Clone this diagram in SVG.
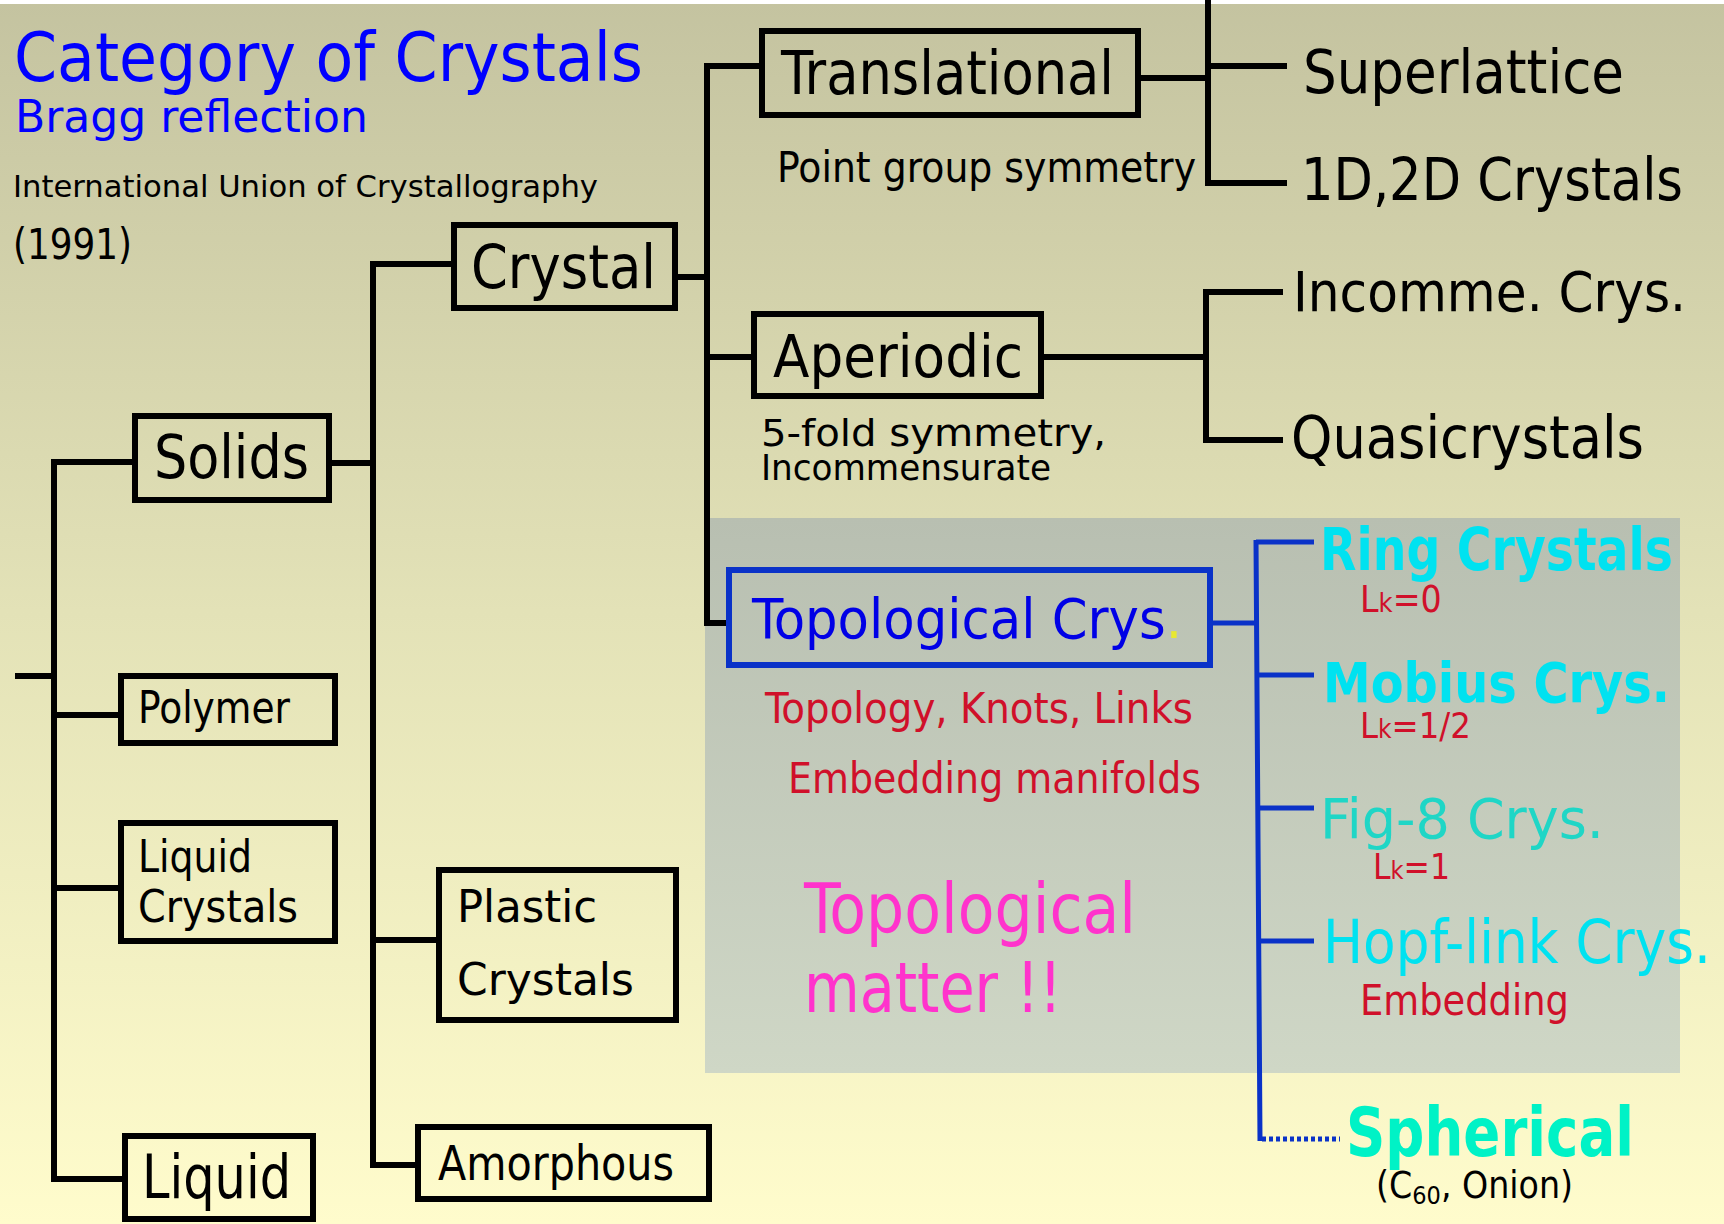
<svg xmlns="http://www.w3.org/2000/svg" width="1724" height="1224" viewBox="0 0 1724 1224">
<defs>
<linearGradient id="bg" x1="0" y1="0" x2="0" y2="1">
<stop offset="0" stop-color="#c4c3a0"/>
<stop offset="0.5" stop-color="#e3e2b7"/>
<stop offset="1" stop-color="#fffccc"/>
</linearGradient>
<linearGradient id="panel" x1="0" y1="0" x2="0" y2="1">
<stop offset="0" stop-color="#b8bfb1"/>
<stop offset="1" stop-color="#cfd7c6"/>
</linearGradient>
</defs>
<style>
text{font-family:"Liberation Sans Narrow","DejaVu Sans Condensed","Liberation Sans",sans-serif}
.box{fill:none;stroke:#000;stroke-width:6}
.bbox{fill:none;stroke:#0a32c8;stroke-width:6}
.ln{fill:none;stroke:#000;stroke-width:6}
.bl{fill:none;stroke:#0a32c8;stroke-width:5}
.k{fill:#000}
.blue{fill:#0000ff}
.red{fill:#d0102a}
.cyan{fill:#00e2f0;font-weight:bold}
</style>
<rect x="0" y="0" width="1724" height="1224" fill="url(#bg)"/>
<rect x="0" y="0" width="1724" height="4" fill="#ffffff"/>
<rect x="705" y="518" width="975" height="555" fill="url(#panel)"/>

<g id="header">
<text class="blue" x="14" y="81" font-size="68" textLength="629" lengthAdjust="spacingAndGlyphs">Category of Crystals</text>
<text class="blue" x="15" y="132" font-size="45" textLength="353" lengthAdjust="spacingAndGlyphs">Bragg reflection</text>
<text class="k" x="13" y="197" font-size="31" textLength="585" lengthAdjust="spacingAndGlyphs">International Union of Crystallography</text>
<text class="k" x="13" y="259" font-size="42" textLength="119" lengthAdjust="spacingAndGlyphs">(1991)</text>
</g>

<g id="connectors">
<path class="ln" d="M15 676H54M54 459V1182M54 462H132M54 715H118M54 888H118M54 1179H122"/>
<path class="ln" d="M332 463H373M373 261V1168M373 264H451M373 940H436M373 1165H415"/>
<path class="ln" d="M678 277H707M707 63V626M707 66H759M707 357H751M707 623H726"/>
<path class="ln" d="M1141 78H1208M1208 0V186M1208 66H1287M1208 183H1287"/>
<path class="ln" d="M1044 357H1206M1206 289V443M1206 292H1283M1206 440H1283"/>
<path class="bl" d="M1213 623H1256M1256 540L1260 1141M1256 542H1314M1257 675H1314M1258 808H1314M1259 941H1314"/>
<path class="bl" d="M1262 1139H1340" stroke-dasharray="4 3"/>
</g>

<g id="solids"><rect class="box" x="135" y="416" width="194" height="84"/>
<text class="k" x="154" y="478" font-size="60" textLength="155" lengthAdjust="spacingAndGlyphs">Solids</text></g>

<g id="polymer"><rect class="box" x="121" y="676" width="214" height="67"/>
<text class="k" x="138" y="723" font-size="44" textLength="152" lengthAdjust="spacingAndGlyphs">Polymer</text></g>

<g id="liquid-crystals"><rect class="box" x="121" y="823" width="214" height="118"/>
<text class="k" x="138" y="872" font-size="44" textLength="114" lengthAdjust="spacingAndGlyphs">Liquid</text>
<text class="k" x="138" y="922" font-size="44" textLength="160" lengthAdjust="spacingAndGlyphs">Crystals</text></g>

<g id="liquid"><rect class="box" x="125" y="1136" width="188" height="83"/>
<text class="k" x="142" y="1198" font-size="60" textLength="149" lengthAdjust="spacingAndGlyphs">Liquid</text></g>

<g id="crystal"><rect class="box" x="454" y="225" width="221" height="83"/>
<text class="k" x="471" y="288" font-size="60" textLength="185" lengthAdjust="spacingAndGlyphs">Crystal</text></g>

<g id="plastic-crystals"><rect class="box" x="439" y="870" width="237" height="150"/>
<text class="k" x="457" y="922" font-size="44" textLength="140" lengthAdjust="spacingAndGlyphs">Plastic</text>
<text class="k" x="457" y="995" font-size="44" textLength="177" lengthAdjust="spacingAndGlyphs">Crystals</text></g>

<g id="amorphous"><rect class="box" x="418" y="1127" width="291" height="72"/>
<text class="k" x="438" y="1180" font-size="48" textLength="236" lengthAdjust="spacingAndGlyphs">Amorphous</text></g>

<g id="translational"><rect class="box" x="762" y="31" width="376" height="84"/>
<text class="k" x="781" y="94" font-size="60" textLength="333" lengthAdjust="spacingAndGlyphs">Translational</text>
<text class="k" x="777" y="182" font-size="42" textLength="419" lengthAdjust="spacingAndGlyphs">Point group symmetry</text></g>

<g id="superlattice"><text class="k" x="1303" y="93" font-size="60" textLength="321" lengthAdjust="spacingAndGlyphs">Superlattice</text></g>
<g id="crystals-1d2d"><text class="k" x="1301" y="200" font-size="58" textLength="382" lengthAdjust="spacingAndGlyphs">1D,2D Crystals</text></g>

<g id="aperiodic"><rect class="box" x="754" y="314" width="287" height="82"/>
<text class="k" x="773" y="377" font-size="58" textLength="250" lengthAdjust="spacingAndGlyphs">Aperiodic</text>
<text class="k" x="761" y="446" font-size="38" textLength="345" lengthAdjust="spacingAndGlyphs">5-fold symmetry,</text>
<text class="k" x="761" y="480" font-size="35" textLength="290" lengthAdjust="spacingAndGlyphs">Incommensurate</text></g>

<g id="incommensurate"><text class="k" x="1293" y="311" font-size="56" textLength="393" lengthAdjust="spacingAndGlyphs">Incomme. Crys.</text></g>
<g id="quasicrystals"><text class="k" x="1291" y="458" font-size="58" textLength="353" lengthAdjust="spacingAndGlyphs">Quasicrystals</text></g>

<g id="topological-crys"><rect class="bbox" x="729" y="570" width="481" height="95"/>
<text x="752" y="638" font-size="56" fill="#0000e6" textLength="430" lengthAdjust="spacingAndGlyphs">Topological Crys<tspan fill="#e8e830">.</tspan></text>
<text class="red" x="765" y="723" font-size="42" textLength="428" lengthAdjust="spacingAndGlyphs">Topology, Knots, Links</text>
<text class="red" x="788" y="793" font-size="42" textLength="413" lengthAdjust="spacingAndGlyphs">Embedding manifolds</text></g>

<g id="topological-matter">
<text x="804" y="933" font-size="70" fill="#ff33cc" textLength="332" lengthAdjust="spacingAndGlyphs">Topological</text>
<text x="804" y="1012" font-size="70" fill="#ff33cc" textLength="258" lengthAdjust="spacingAndGlyphs">matter !!</text>
</g>

<g id="ring-crystals"><text class="cyan" x="1320" y="570" font-size="58" textLength="353" lengthAdjust="spacingAndGlyphs">Ring Crystals</text>
<text class="red" x="1360" y="612" font-size="37">L<tspan font-size="27">k</tspan>=0</text></g>

<g id="mobius-crys"><text class="cyan" x="1323" y="702" font-size="56" textLength="347" lengthAdjust="spacingAndGlyphs">Mobius Crys.</text>
<text class="red" x="1360" y="738" font-size="36">L<tspan font-size="26">k</tspan>=1/2</text></g>

<g id="fig8-crys"><text x="1320" y="838" font-size="56" fill="#1fd6c6" textLength="284" lengthAdjust="spacingAndGlyphs">Fig-8 Crys.</text>
<text class="red" x="1373" y="879" font-size="35">L<tspan font-size="25">k</tspan>=1</text></g>

<g id="hopf-link-crys"><text x="1323" y="963" font-size="60" fill="#00e2f0" textLength="388" lengthAdjust="spacingAndGlyphs">Hopf-link Crys.</text>
<text class="red" x="1360" y="1015" font-size="42" textLength="209" lengthAdjust="spacingAndGlyphs">Embedding</text></g>

<g id="spherical"><text x="1346" y="1156" font-size="68" font-weight="bold" fill="#00f2c6" textLength="288" lengthAdjust="spacingAndGlyphs">Spherical</text>
<text class="k" x="1376" y="1198" font-size="37">(C<tspan font-size="25" dy="6">60</tspan><tspan dy="-6">, Onion)</tspan></text></g>
</svg>
